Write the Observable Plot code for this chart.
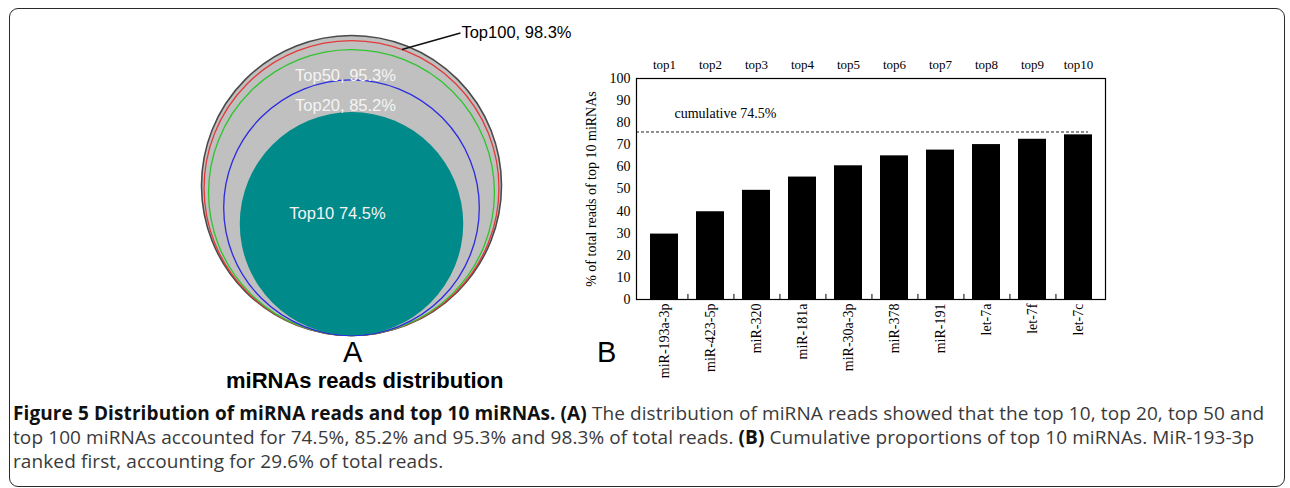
<!DOCTYPE html>
<html>
<head>
<meta charset="utf-8">
<script src="https://cdn.jsdelivr.net/npm/d3@7"></script>
<script src="https://cdn.jsdelivr.net/npm/@observablehq/plot@0.6"></script>
<style>
  html, body { margin: 0; padding: 0; background: #fff; }
  #wrap { position: relative; width: 1290px; height: 488px; overflow: hidden; background: #fff; }
  #box { position: absolute; left: 9px; top: 8px; width: 1276px; height: 479px; box-sizing: border-box;
         border: 1.5px solid #2a2a2a; border-radius: 9px; }
  .abs { position: absolute; white-space: nowrap; }
  #panelA { position: absolute; left: 171px; top: 10px; }
  #panelB { position: absolute; left: 556px; top: 40px; }
  #letterA, #letterB { font-family: "Liberation Sans", Arial, sans-serif; font-size: 29px; line-height: 29px; color: #000; }
  #titleA { font-family: "Liberation Sans", Arial, sans-serif; font-weight: bold; font-size: 22px; line-height: 22px; color: #000; }
  #caption { position: absolute; left: 13px; top: 401px; font-family: "Open Sans", sans-serif; font-size: 19px;
             letter-spacing: 0.1px; line-height: 24px; color: #3a3a3a; white-space: nowrap; }
  #caption b { color: #111; }
</style>
</head>
<body>
<div id="wrap">
  <div id="box"></div>
  <div id="panelA"></div>
  <div id="panelB"></div>
  <div id="letterA" class="abs" style="left:343px; top:338px;">A</div>
  <div id="titleA" class="abs" style="left:226px; top:370px;">miRNAs reads distribution</div>
  <div id="letterB" class="abs" style="left:597px; top:338px;">B</div>
  <div id="caption">
    <div><b>Figure 5 Distribution of miRNA reads and top 10 miRNAs. (A)</b> The distribution of miRNA reads showed that the top 10, top 20, top 50 and</div>
    <div>top 100 miRNAs accounted for 74.5%, 85.2% and 95.3% and 98.3% of total reads. <b>(B)</b> Cumulative proportions of top 10 miRNAs. MiR-193-3p</div>
    <div>ranked first, accounting for 29.6% of total reads.</div>
  </div>
</div>
<script>
// ---------- Panel A data ----------
const circleNames  = ["All", "Top100", "Top50", "Top20", "Top10"];
const circleValues = [100, 98.3, 95.3, 85.2, 74.5];
const circleLabels = ["", "Top100, 98.3%", "Top50, 95.3%", "Top20, 85.2%", "Top10 74.5%"];

// ---------- Panel B data ----------
const mirnas     = ["miR-193a-3p", "miR-423-5p", "miR-320", "miR-181a", "miR-30a-3p", "miR-378", "miR-191", "let-7a", "let-7f", "let-7c"];
const cumulative = [29.6, 39.7, 49.4, 55.4, 60.5, 65.0, 67.6, 70.1, 72.5, 74.5];
const topLabels  = ["top1", "top2", "top3", "top4", "top5", "top6", "top7", "top8", "top9", "top10"];
const cumulativeLine = 75.8;
const cumulativeText = "cumulative 74.5%";
const yTicks = [0, 10, 20, 30, 40, 50, 60, 70, 80, 90, 100];

// ---------- Panel A ----------
const circles = circleNames.map((name, i) => ({name, value: circleValues[i], label: circleLabels[i]}));
const fills   = {All: "#c0c0c0", Top100: "none", Top50: "none", Top20: "none", Top10: "#008a8a"};
const strokes = {All: "#4a4a4a", Top100: "#e23a3a", Top50: "#2fc42f", Top20: "#2b2be0", Top10: "none"};

const top100 = circles.find(d => d.name === "Top100");
const theta = 20 * Math.PI / 180;
const leader = [{
  x1: (top100.value / 2) * Math.sin(theta),
  y1: top100.value / 2 + (top100.value / 2) * Math.cos(theta)
}];
leader[0].x2 = leader[0].x1 + 19.5;
leader[0].y2 = leader[0].y1 + 5.5;

const A = Plot.plot({
  width: 420, height: 340,
  margin: 0,
  x: {domain: [-60, 80], range: [0, 420], axis: null},
  y: {domain: [0, 100], range: [325, 25], axis: null},
  r: {type: "linear", domain: [0, 100], range: [0, 150]},
  color: {type: "identity"},
  style: {fontFamily: "Liberation Sans, Arial, sans-serif", background: "transparent"},
  marks: [
    Plot.dot(circles, {x: () => 0, y: d => d.value / 2, r: "value",
      fill: d => fills[d.name], stroke: d => strokes[d.name],
      strokeWidth: d => d.name === "All" ? 1.6 : 1.3}),
    Plot.link(leader, {x1: "x1", y1: "y1", x2: "x2", y2: "y2", stroke: "#111", strokeWidth: 1.5}),
    Plot.text(leader, {x: "x2", y: "y2", text: () => top100.label, textAnchor: "start", dx: 1,
      fontSize: 16.5, fill: "#000"}),
    Plot.text(circles.filter(d => d.name === "Top50" || d.name === "Top20"),
      {x: () => 0, y: "value", text: "label", dy: 26, dx: -6, fontSize: 16.5, fill: "#f4f4f4"}),
    Plot.text(circles.filter(d => d.name === "Top10"),
      {x: () => 0, y: d => d.value / 2, text: "label", dy: -10, dx: -14, fontSize: 16.5, fill: "#f4f4f4"})
  ]
});
document.getElementById("panelA").appendChild(A);

// ---------- Panel B ----------
const bars = mirnas.map((name, i) => ({name, value: cumulative[i], top: topLabels[i]}));
const W = 564, ML = 80, MR = 15;
const halfStep = (W - ML - MR) / mirnas.length / 2;

const B = Plot.plot({
  width: W, height: 350,
  marginLeft: ML, marginRight: MR, marginTop: 38, marginBottom: 91,
  x: {type: "band", domain: mirnas, paddingInner: 0.4, paddingOuter: 0.2,
      tickRotate: -90, tickSize: 0, tickPadding: 4, label: null},
  y: {domain: [0, 100], ticks: yTicks, tickSize: 0, tickPadding: 6,
      label: "% of total reads of top 10 miRNAs", labelAnchor: "center", labelOffset: 50, labelArrow: "none"},
  style: {fontFamily: "Liberation Serif, Times New Roman, serif", fontSize: "14px", color: "#000", background: "transparent"},
  marks: [
    Plot.barY(bars, {x: "name", y: "value", fill: "#000"}),
    Plot.ruleY([cumulativeLine], {stroke: "#222", strokeWidth: 1, strokeDasharray: "3,2", insetRight: 17}),
    Plot.text([cumulativeText], {x: () => mirnas[0], y: () => 84, text: d => d, textAnchor: "start",
      dx: 10, fontSize: 14, fill: "#000"}),
    Plot.ruleX(mirnas.slice(0, -1), {x: d => d, dx: halfStep, y1: 0, y2: 2.3, stroke: "#000"}),
    Plot.text(bars, {x: "name", text: "top", frameAnchor: "top", dy: -19, fontSize: 13, fill: "#000"}),
    Plot.frame({stroke: "#000", strokeWidth: 1.2})
  ]
});
document.getElementById("panelB").appendChild(B);
</script>
</body>
</html>
